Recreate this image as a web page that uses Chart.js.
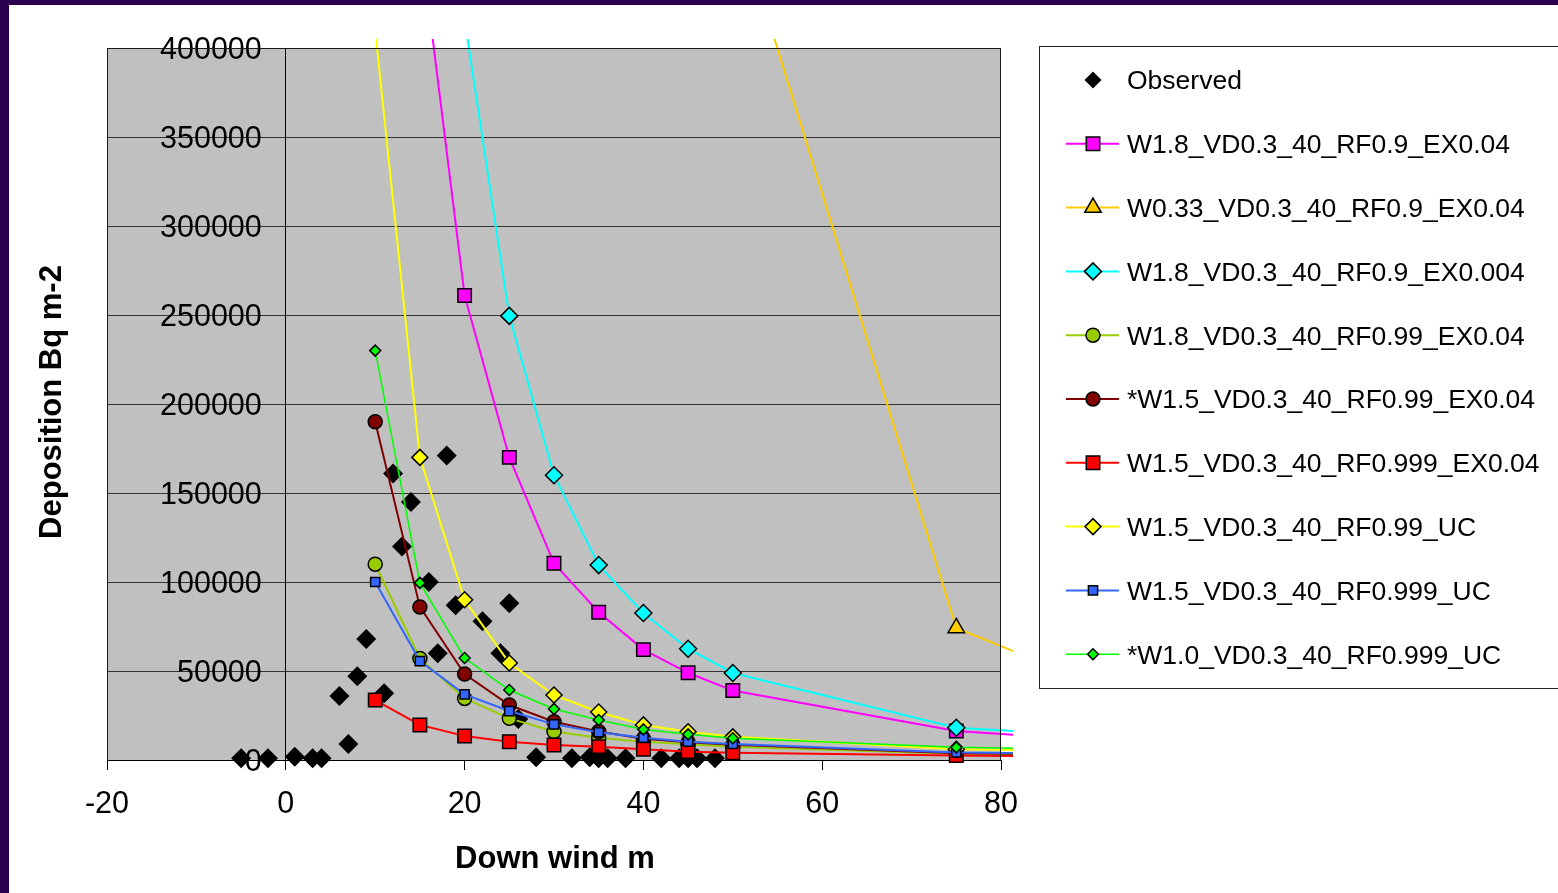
<!DOCTYPE html>
<html>
<head>
<meta charset="utf-8">
<title>Deposition vs down wind distance</title>
<script src="https://cdn.jsdelivr.net/npm/chart.js@4.4.1/dist/chart.umd.min.js"></script>
<style>
  html, body { margin: 0; padding: 0; background: #fff; }
  canvas { display: block; }
</style>
</head>
<body>
<canvas id="depositionChart" width="1558" height="893"></canvas>
<script>
// observed points
const observedX = [-5, -2, 1, 3, 4, 6, 7, 8, 9, 11, 12, 13, 14, 16, 17, 18, 19, 22, 24, 25, 26, 28, 32, 34, 35, 36, 38, 42, 44, 45, 46, 48];
const observedY = [1000, 1000, 1800, 1000, 1000, 36000, 9000, 47000, 68000, 37500, 161000, 120000, 145000, 100000, 60000, 171000, 87000, 78000, 60000, 88000, 23000, 1500, 1000, 1500, 1000, 1000, 1000, 1000, 1000, 1000, 1000, 1000];

// model distances, shared by all model runs
const distances = [10, 15, 20, 25, 30, 35, 40, 45, 50, 75, 100];

const w18Rf09Ex004 = [null, 463000, 261000, 170000, 110500, 83000, 62000, 49000, 39000, 16300, 8000];
const w033Rf09Ex004 = [null, null, null, null, null, null, null, null, 481000, 74200, 23000];
const w18Rf09Ex0004 = [null, null, 416000, 249500, 160000, 109500, 82600, 62500, 48900, 18100, 11000];
const w18Rf099Ex004 = [110000, 57000, 34600, 23400, 16000, 12500, 10300, 8800, 7500, 3500, 2500];
const w15Rf099Ex004 = [190000, 86000, 48300, 30900, 21500, 16000, 12000, 10000, 8500, 3800, 2500];
const w15Rf0999Ex004 = [33700, 19700, 13500, 10300, 8400, 7500, 6000, 4700, 4100, 2500, 1500];
const w15Rf099Uc = [410000, 170000, 90000, 54500, 36500, 27000, 19700, 15900, 13000, 6000, 4500];
const w15Rf0999Uc = [100000, 55600, 36900, 27500, 20000, 15600, 12500, 10300, 9000, 4200, 3000];
const w10Rf0999Uc = [230000, 99500, 57300, 39300, 28700, 22500, 17200, 14400, 12200, 7100, 5000];

const seriesLabels = [
  "Observed",
  "W1.8_VD0.3_40_RF0.9_EX0.04",
  "W0.33_VD0.3_40_RF0.9_EX0.04",
  "W1.8_VD0.3_40_RF0.9_EX0.004",
  "W1.8_VD0.3_40_RF0.99_EX0.04",
  "*W1.5_VD0.3_40_RF0.99_EX0.04",
  "W1.5_VD0.3_40_RF0.999_EX0.04",
  "W1.5_VD0.3_40_RF0.99_UC",
  "W1.5_VD0.3_40_RF0.999_UC",
  "*W1.0_VD0.3_40_RF0.999_UC"
];

const yTicks = [0, 50000, 100000, 150000, 200000, 250000, 300000, 350000, 400000];
const xTicks = [-20, 0, 20, 40, 60, 80];

const FONT = "'Liberation Sans', Arial, sans-serif";

function toPoints(xs, ys) {
  const pts = [];
  xs.forEach((x, i) => {
    if (ys[i] !== null) pts.push({ x: x, y: ys[i] });
  });
  return pts;
}

// lines run a little past the plot edge, like the original
const lineClip = { left: 10, top: 9, right: 12, bottom: 10 };

function modelSet(idx, values, color, style, radius, width) {
  return {
    label: seriesLabels[idx],
    data: toPoints(distances, values),
    showLine: true,
    borderColor: color,
    borderWidth: width || 2,
    backgroundColor: color,
    pointBackgroundColor: color,
    pointBorderColor: "#000",
    pointBorderWidth: 1.5,
    pointStyle: style,
    pointRadius: radius,
    tension: 0,
    clip: lineClip,
    order: -idx
  };
}

const datasets = [
  {
    label: seriesLabels[0],
    data: toPoints(observedX, observedY),
    showLine: false,
    backgroundColor: "#000",
    pointBackgroundColor: "#000",
    pointBorderColor: "#000",
    pointBorderWidth: 0,
    pointStyle: "rectRot",
    pointRadius: 10,
    legendRadius: 8.5,
    clip: lineClip,
    order: 0
  },
  modelSet(1, w18Rf09Ex004, "#ff00ff", "rect", 9.5),
  modelSet(2, w033Rf09Ex004, "#ffcc00", "triangle", 9.5),
  modelSet(3, w18Rf09Ex0004, "#00ffff", "rectRot", 8.5),
  modelSet(4, w18Rf099Ex004, "#99cc00", "circle", 7),
  modelSet(5, w15Rf099Ex004, "#800000", "circle", 7),
  modelSet(6, w15Rf0999Ex004, "#ff0000", "rect", 9.5),
  modelSet(7, w15Rf099Uc, "#ffff00", "rectRot", 8),
  modelSet(8, w15Rf0999Uc, "#3366ff", "rect", 6.5),
  modelSet(9, w10Rf0999Uc, "#00ff00", "rectRot", 5.5, 1.5)
];

function drawMarker(ctx, ds, x, y) {
  const r = ds.legendRadius || ds.pointRadius;
  ctx.fillStyle = ds.pointBackgroundColor;
  ctx.strokeStyle = ds.pointBorderColor;
  ctx.lineWidth = ds.pointBorderWidth;
  Chart.helpers.drawPoint(ctx, {
    pointStyle: ds.pointStyle,
    radius: r,
    rotation: 0,
    borderWidth: ds.pointBorderWidth
  }, x, y);
}

const framePlugin = {
  id: "frame",
  beforeDraw(chart) {
    const { ctx, chartArea: a } = chart;
    ctx.save();
    ctx.fillStyle = "#fff";
    ctx.fillRect(0, 0, chart.width, chart.height);
    ctx.fillStyle = "#2c0050";
    ctx.fillRect(0, 0, 9, chart.height);
    ctx.fillRect(0, 0, chart.width, 5);
    ctx.fillStyle = "#c0c0c0";
    ctx.fillRect(a.left, a.top, a.right - a.left, a.bottom - a.top);
    ctx.restore();
  },
  beforeDatasetsDraw(chart) {
    // y labels sit left of the value axis, which crosses at x = 0
    const { ctx, scales } = chart;
    const axisX = scales.x.getPixelForValue(0);
    ctx.save();
    ctx.fillStyle = "#000";
    ctx.font = "30.5px " + FONT;
    ctx.textAlign = "right";
    ctx.textBaseline = "middle";
    yTicks.forEach(v => {
      ctx.fillText(String(v), axisX - 24, scales.y.getPixelForValue(v) + 3);
    });
    ctx.restore();
  },
  afterDatasetsDraw(chart) {
    const { ctx, chartArea: a } = chart;
    ctx.save();
    ctx.strokeStyle = "#1a1a1a";
    ctx.lineWidth = 1;
    ctx.beginPath();
    ctx.moveTo(a.left + 0.5, a.bottom);
    ctx.lineTo(a.left + 0.5, a.top + 0.5);
    ctx.lineTo(a.right - 0.5, a.top + 0.5);
    ctx.lineTo(a.right - 0.5, a.bottom);
    ctx.stroke();
    ctx.restore();
  },
  afterDraw(chart) {
    const ctx = chart.ctx;
    ctx.save();

    // axis titles
    ctx.fillStyle = "#000";
    ctx.font = "bold 31px " + FONT;
    ctx.textAlign = "center";
    ctx.textBaseline = "middle";
    ctx.fillText("Down wind m", 555, 859);
    ctx.save();
    ctx.translate(52, 402);
    ctx.rotate(-Math.PI / 2);
    ctx.fillText("Deposition Bq m-2", 0, 0);
    ctx.restore();

    // legend box
    ctx.fillStyle = "#fff";
    ctx.fillRect(1039, 46, 540, 642);
    ctx.strokeStyle = "#222";
    ctx.lineWidth = 1;
    ctx.strokeRect(1039.5, 46.5, 540, 642);

    ctx.font = "26.5px " + FONT;
    ctx.textAlign = "left";
    ctx.textBaseline = "middle";
    chart.data.datasets.forEach((ds, i) => {
      const y = 80 + i * 63.8;
      if (ds.showLine) {
        ctx.strokeStyle = ds.borderColor;
        ctx.lineWidth = ds.borderWidth;
        ctx.beginPath();
        ctx.moveTo(1066, y);
        ctx.lineTo(1119, y);
        ctx.stroke();
      }
      drawMarker(ctx, ds, 1093, y);
      ctx.fillStyle = "#000";
      ctx.fillText(ds.label, 1127, y + 2);
    });
    ctx.restore();
  }
};

const chart = new Chart(document.getElementById("depositionChart"), {
  type: "scatter",
  data: { datasets: datasets },
  options: {
    responsive: false,
    animation: false,
    devicePixelRatio: 1,
    layout: { padding: { left: 107, top: 48, right: 557, bottom: 133 } },
    elements: { line: { capBezierPoints: false } },
    plugins: {
      legend: { display: false },
      tooltip: { enabled: false }
    },
    scales: {
      x: {
        type: "linear",
        position: { y: 0 },
        min: xTicks[0],
        max: xTicks[xTicks.length - 1],
        afterBuildTicks: (scale) => { scale.ticks = xTicks.map(v => ({ value: v })); },
        ticks: {
          color: "#000",
          font: { family: FONT, size: 30.5 },
          padding: 17,
          maxRotation: 0,
          callback: (v) => String(v)
        },
        grid: { drawOnChartArea: false, drawTicks: true, tickLength: 9, color: "#000" },
        border: { display: true, color: "#000", width: 1 }
      },
      y: {
        type: "linear",
        position: { x: 0 },
        min: yTicks[0],
        max: yTicks[yTicks.length - 1],
        afterBuildTicks: (scale) => { scale.ticks = yTicks.map(v => ({ value: v })); },
        ticks: { display: false },
        grid: { drawOnChartArea: true, drawTicks: true, tickLength: 9, color: "#333", lineWidth: 1 },
        border: { display: true, color: "#000", width: 1 }
      }
    }
  },
  plugins: [framePlugin]
});
</script>
</body>
</html>
